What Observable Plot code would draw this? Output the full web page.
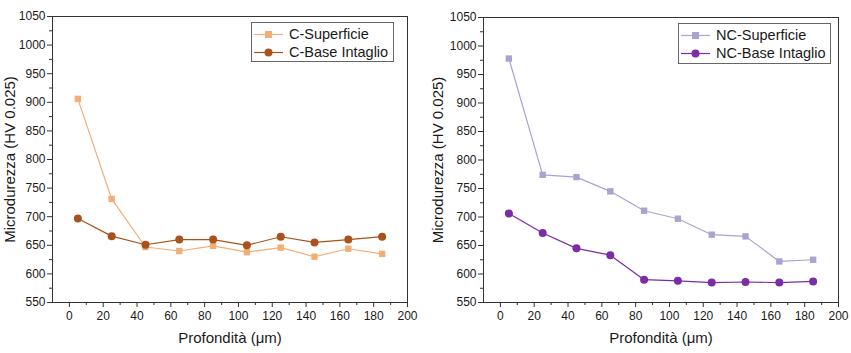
<!DOCTYPE html>
<html><head><meta charset="utf-8">
<script src="https://cdn.jsdelivr.net/npm/d3@7"></script>
<script src="https://cdn.jsdelivr.net/npm/@observablehq/plot@0.6"></script>
<style>
body{margin:0;background:#fff;font-family:"Liberation Sans",Arial,sans-serif}
#wrap{position:relative;width:851px;height:353px;display:flex;overflow:hidden}
.legend{position:absolute;border:1px solid #666;background:#fff;font-size:14.5px;color:#1a1a1a;box-sizing:border-box;padding:2px 4px 0 2px;line-height:18px}
.legend div{display:flex;align-items:center;white-space:nowrap}
.legend svg{margin-right:5px}
</style></head><body><div id="wrap"></div>
<script>
const depth = [5, 25, 45, 65, 85, 105, 125, 145, 165, 185];
const cSuperficie = [906, 731, 647, 640, 649, 638, 646, 630, 644, 635];
const cBase = [697, 666, 651, 660, 660, 650, 665, 655, 660, 665];
const ncSuperficie = [978, 774, 770, 745, 711, 697, 669, 666, 622, 625];
const ncBase = [706, 672, 645, 633, 590, 588, 585, 586, 585, 587];
const xTicks = [0, 20, 40, 60, 80, 100, 120, 140, 160, 180, 200];
const xMinor = [10, 30, 50, 70, 90, 110, 130, 150, 170, 190];
const yTicks = [550, 600, 650, 700, 750, 800, 850, 900, 950, 1000, 1050];
const yMinor = [575, 625, 675, 725, 775, 825, 875, 925, 975, 1025];
const xLabel = "Profondità (μm)";
const yLabel = "Microdurezza (HV 0.025)";
const leftNames = ["C-Superficie", "C-Base Intaglio"];
const rightNames = ["NC-Superficie", "NC-Base Intaglio"];
const leftColors = ["#F2AE76", "#A8531C"];
const rightColors = ["#A9A3CF", "#7A2DA6"];

function panel(cfg) {
  const sq = depth.map((d, i) => ({x: d, y: cfg.a[i]}));
  const ci = depth.map((d, i) => ({x: d, y: cfg.b[i]}));
  return Plot.plot({
    width: cfg.width, height: 353,
    marginLeft: cfg.ml, marginRight: cfg.mr, marginTop: cfg.mt, marginBottom: 353 - 302,
    style: {fontFamily: '"Liberation Sans", Arial, sans-serif', color: "#1a1a1a", background: "#fff"},
    x: {domain: [-10, 200]},
    y: {domain: [550, 1050]},
    marks: [
      Plot.frame({stroke: "#333", strokeWidth: 1}),
      Plot.axisX(xTicks, {tickSize: 5, tickPadding: 4, fontSize: 12, label: null, stroke: "#333", tickFormat: d => String(d)}),
      Plot.axisX(xMinor, {tickSize: 3, text: null, label: null, stroke: "#333"}),
      Plot.axisY(yTicks, {tickSize: 5, tickPadding: 2, fontSize: 12, label: null, stroke: "#333", tickFormat: d => String(d)}),
      Plot.axisY(yMinor, {tickSize: 3, text: null, label: null, stroke: "#333"}),
      Plot.text([xLabel], {frameAnchor: "bottom", dy: 40, fontSize: 15, fill: "#1a1a1a", textAnchor: "middle"}),
      Plot.text([yLabel], {frameAnchor: "left", rotate: -90, dx: cfg.ydx, fontSize: 15, fill: "#1a1a1a", textAnchor: "middle"}),
      Plot.line(sq, {x: "x", y: "y", stroke: cfg.colors[0], strokeWidth: 1.2}),
      Plot.line(ci, {x: "x", y: "y", stroke: cfg.colors[1], strokeWidth: 1.2}),
      Plot.dot(sq, {x: "x", y: "y", symbol: "square", r: 3.6, fill: cfg.colors[0], stroke: "none"}),
      Plot.dot(ci, {x: "x", y: "y", symbol: "circle", r: 4, fill: cfg.colors[1], stroke: "none"})
    ]
  });
}

function legend(names, colors, box) {
  const el = document.createElement("div");
  el.className = "legend";
  Object.assign(el.style, {left: box[0] + "px", top: box[1] + "px", width: box[2] + "px", height: box[3] + "px"});
  names.forEach((n, i) => {
    const row = document.createElement("div");
    const mk = i === 0
      ? `<rect x="11" y="5" width="7" height="7" fill="${colors[i]}"/>`
      : `<circle cx="14.5" cy="8.5" r="4" fill="${colors[i]}"/>`;
    row.innerHTML = `<svg width="30" height="17"><line x1="0" x2="29" y1="8.5" y2="8.5" stroke="${colors[i]}" stroke-width="1.2"/>${mk}</svg><span>${n}</span>`;
    el.appendChild(row);
  });
  return el;
}

const wrap = document.getElementById("wrap");
wrap.appendChild(panel({width: 425, ml: 52, mr: 18, mt: 16, a: cSuperficie, b: cBase, colors: leftColors, ydx: -42}));
wrap.appendChild(panel({width: 426, ml: 58, mr: 13, mt: 17, a: ncSuperficie, b: ncBase, colors: rightColors, ydx: -45}));
wrap.appendChild(legend(leftNames, leftColors, [251, 22, 143, 40]));
wrap.appendChild(legend(rightNames, rightColors, [678, 23, 153, 41]));
</script></body></html>
